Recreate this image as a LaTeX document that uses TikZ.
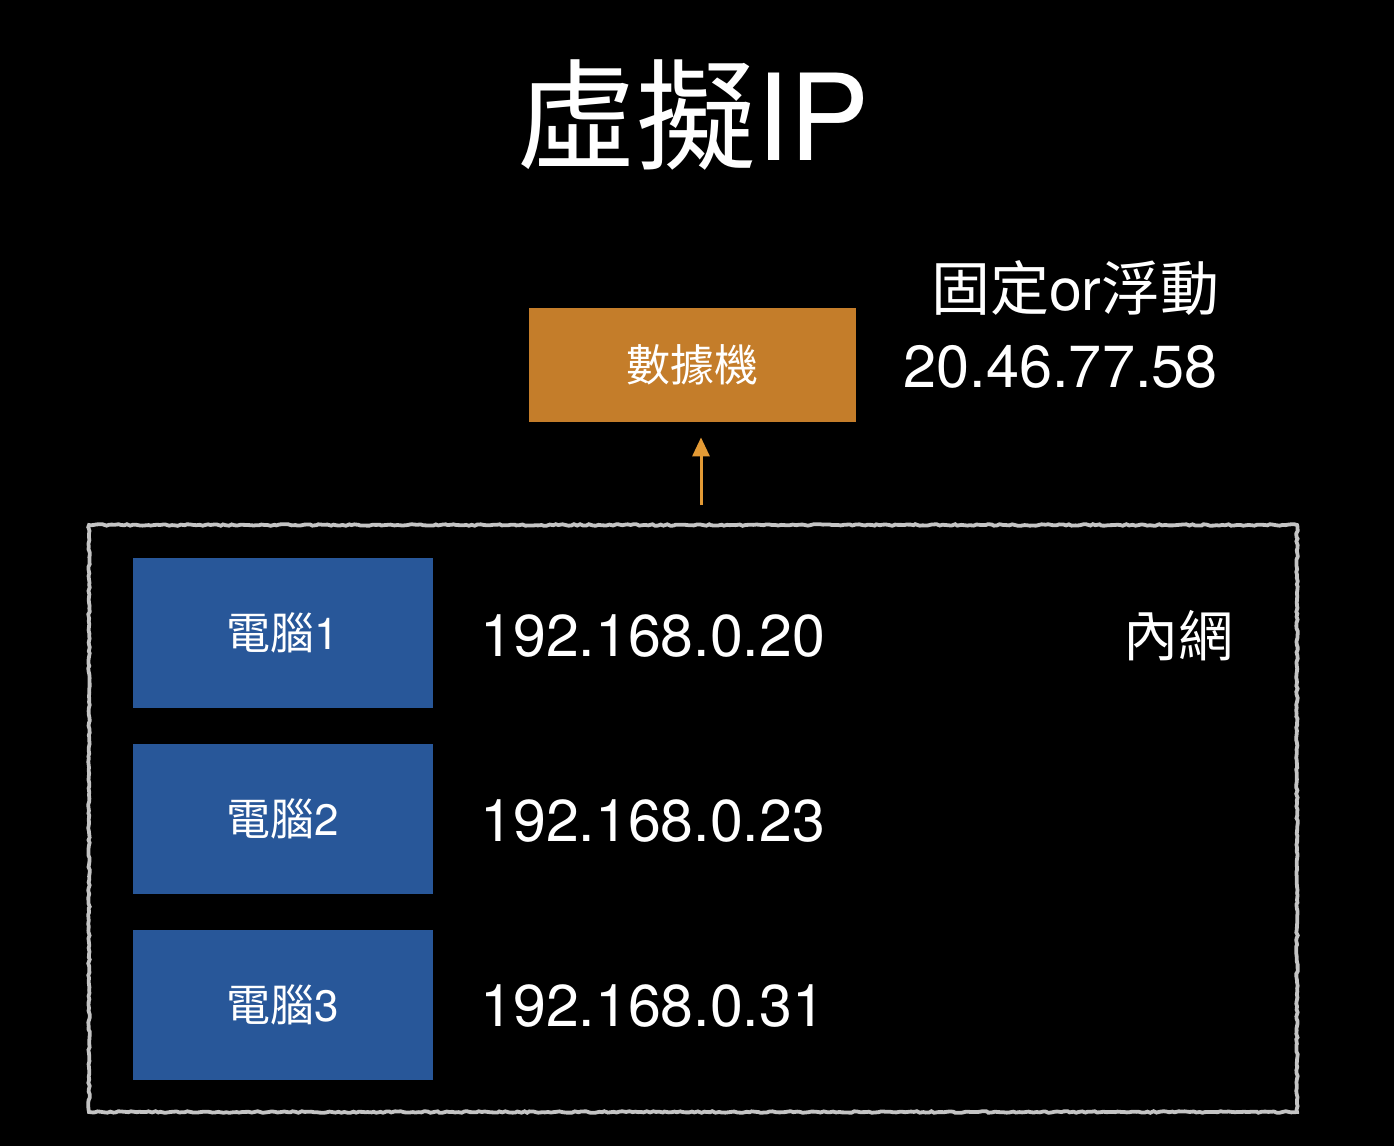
\documentclass[tikz,border=0pt]{standalone}
\usepackage{fontspec}
\setmainfont{TeX Gyre Heros}
\newfontfamily\cjk{Noto Sans CJK TC}
\usetikzlibrary{arrows.meta,decorations.pathmorphing}
\definecolor{bgblack}{HTML}{000000}
\definecolor{modemorange}{HTML}{C47D2A}
\definecolor{arroworange}{HTML}{E39A35}
\definecolor{pcblue}{HTML}{285799}
\definecolor{framegray}{HTML}{C4C4C4}
\begin{document}
\begin{tikzpicture}[x=0.5pt,y=-0.5pt,
  txt/.style={text=white,inner sep=0pt},
  pcbox/.style={fill=pcblue,draw=none,minimum width=150pt,minimum height=75pt,inner sep=0pt,text=white,font=\fontsize{22}{26}\selectfont},
  modembox/.style={fill=modemorange,draw=none,minimum width=163.5pt,minimum height=57pt,inner sep=0pt,text=white,font=\fontsize{22}{26}\selectfont},
  lanframe/.style={draw=framegray,line width=1.9pt,minimum width=604pt,minimum height=293.5pt,inner sep=0pt,
    decorate,decoration={random steps,segment length=1.5pt,amplitude=0.4pt}},
  uparrow/.style={draw=arroworange,line width=1.5pt,-{Triangle[length=9.5pt,width=8.5pt]}},
  iptext/.style={txt,anchor=west,font=\fontsize{29.5}{34}\selectfont}
]
\fill[bgblack] (0,0) rectangle (1394,1146);
\useasboundingbox (0,0) rectangle (1394,1146);

\node[txt,font=\fontsize{60}{68}\selectfont] (title) at (693,115) {{\cjk 虛擬}IP};

\node[modembox] (modem) at (692.5,365) {\cjk 數據機};
\node[txt,anchor=east,font=\fontsize{29.5}{34}\selectfont] (mode) at (1220,288) {{\cjk 固定}or{\cjk 浮動}};
\node[txt,anchor=east,font=\fontsize{29.7}{34}\selectfont] (pubip) at (1218,367) {20.46.77.58};

\node[lanframe] (lan) at (693,818.5) {};

\node[pcbox] (pc1) at (283,633) {{\cjk 電腦}1};
\node[pcbox] (pc2) at (283,818.5) {{\cjk 電腦}2};
\node[pcbox] (pc3) at (283,1004.5) {{\cjk 電腦}3};

\node[iptext] (ip1) at (480,636) {192.168.0.20};
\node[iptext] (ip2) at (480,821) {192.168.0.23};
\node[iptext] (ip3) at (480,1006) {192.168.0.31};

\node[txt,font=\fontsize{27.5}{32}\selectfont\cjk] (lanlabel) at (1178,636) {內網};

\draw[uparrow,shorten <=9pt,shorten >=7.5pt] (lan.north -| 701,0) -- (modem.south -| 701,0);
\end{tikzpicture}
\end{document}
